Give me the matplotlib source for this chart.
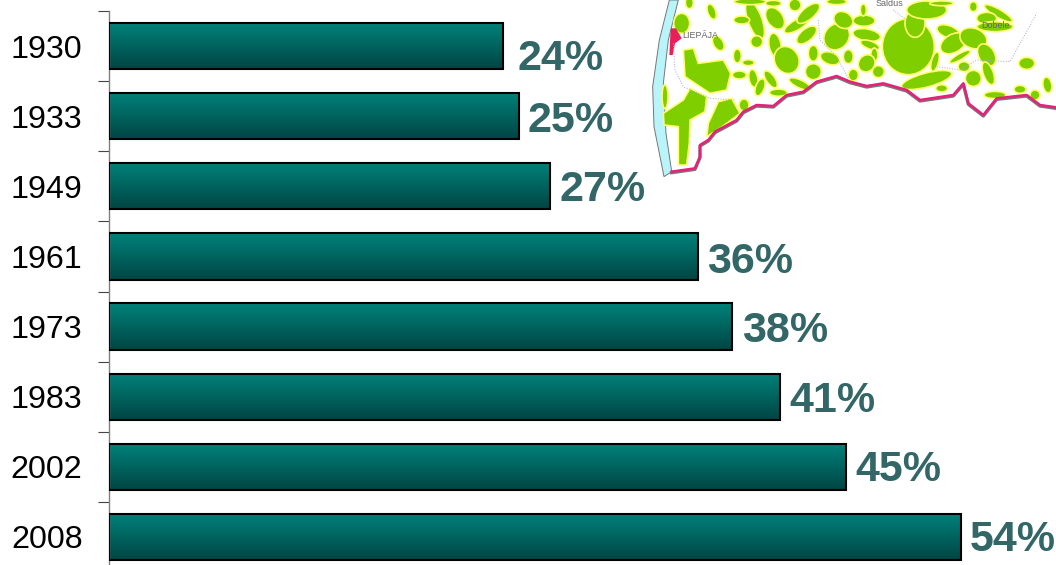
import numpy as np
import matplotlib
matplotlib.use("Agg")
from matplotlib import pyplot as plt
from matplotlib.patches import Ellipse, Polygon

plt.rcParams['font.family'] = ['Liberation Sans', 'DejaVu Sans']

years = ["1930", "1933", "1949", "1961", "1973", "1983", "2002", "2008"]
bar_values = [24.97, 25.98, 27.95, 37.3, 39.5, 42.5, 46.7, 54.0]
bar_labels = ["24%", "25%", "27%", "36%", "38%", "41%", "45%", "54%"]

# map decoration, in coordinates of a 3x crop of the map corner
border_x = [95, 130, 165, 180, 180, 205, 225, 290, 310, 350, 400, 440, 490, 530, 590, 630, 680, 730,
            800, 840, 940, 970, 985, 1030, 1070, 1160, 1200, 1248]
border_y = [515, 510, 505, 470, 435, 420, 395, 360, 335, 315, 318, 285, 275, 245, 228, 245, 258, 250,
            270, 300, 285, 250, 310, 345, 295, 285, 315, 322]
coast_x = [88, 58, 38, 42, 72, 95, 78, 70, 85, 115]
coast_y = [0, 120, 260, 380, 530, 515, 400, 250, 120, 0]
blobs = [(148, 8, 20, 30, 0), (215, 35, 20, 40, -20), (125, 70, 40, 50, 0), (235, 130, 25, 40, -30),
         (75, 290, 15, 60, 0), (312, 315, 25, 30, 0), (298, 225, 35, 20, 0), (292, 168, 20, 35, 0),
         (325, 188, 30, 15, 0), (340, 235, 22, 45, -10), (360, 262, 22, 45, 20), (392, 238, 22, 50, -35),
         (415, 278, 45, 18, 0), (480, 252, 60, 20, 25), (520, 215, 40, 40, -40), (345, 60, 35, 100, -20),
         (350, 125, 30, 30, 0), (305, 60, 40, 20, 0), (405, 55, 40, 60, -35), (405, 135, 30, 60, -10),
         (440, 180, 60, 70, -30), (470, 75, 70, 25, -30), (500, 105, 60, 30, -40), (505, 40, 70, 30, -40),
         (590, 110, 70, 60, -50), (610, 60, 40, 50, -60), (520, 160, 25, 40, 0), (570, 175, 50, 30, 20),
         (625, 170, 25, 35, 0), (640, 225, 25, 30, 0), (672, 62, 55, 28, 0), (680, 105, 70, 30, 10),
         (690, 135, 50, 20, 20), (703, 165, 18, 35, 0), (680, 190, 40, 45, 40), (715, 215, 30, 30, 40),
         (805, 140, 130, 140, 0), (825, 70, 50, 70, 0), (860, 240, 130, 35, -15), (905, 265, 30, 18, 0),
         (885, 185, 18, 50, 15), (860, 30, 100, 45, 0), (925, 95, 60, 30, 20), (940, 130, 70, 45, -30),
         (1000, 115, 70, 50, 20), (1040, 165, 40, 60, -30), (1045, 220, 25, 60, -20), (960, 170, 60, 15, -30),
         (972, 200, 30, 25, 0), (1000, 235, 40, 40, 0), (1000, 20, 20, 25, 0), (1075, 40, 80, 20, 30),
         (1040, 55, 50, 30, 0), (1065, 80, 90, 25, 0), (1160, 190, 40, 30, 0), (1065, 285, 55, 18, 0),
         (1140, 268, 30, 20, 0), (1185, 285, 25, 25, 0), (1222, 255, 22, 40, -10), (590, 5, 50, 15, 0),
         (670, 30, 15, 30, 0), (465, 15, 30, 30, 0), (400, 10, 40, 15, 0), (330, 5, 80, 15, 0), (905, 10, 60, 12, 0)]
patches = [[(130, 150), (160, 145), (175, 190), (250, 180), (272, 220), (260, 270), (210, 280), (180, 260), (135, 230)],
           [(70, 340), (130, 300), (150, 265), (200, 290), (195, 335), (150, 360), (148, 430), (140, 495), (115, 495), (115, 380), (72, 375)],
           [(235, 305), (275, 295), (300, 340), (240, 385), (200, 410), (205, 370)]]
city = [(92, 85), (108, 85), (125, 115), (105, 130), (98, 165), (88, 165)]
rivers = [[(100, 130), (105, 210), (130, 260), (210, 295), (285, 300)],
          [(535, 60), (540, 120), (590, 170), (625, 235)],
          [(760, 30), (800, 60)],
          [(890, 200), (960, 210), (1010, 180), (1110, 185), (1190, 40)]]
places = [("LIEPĀJA", 180, 105), ("Saldus", 748, 10), ("Dobele", 1068, 78)]
blob_grow = 1.2


def toFig(x, y):
    return 640 + x / 3, y / 3


fig = plt.figure(figsize=(10.56, 5.65), dpi=100)

# map sits behind the chart, in plain pixel coordinates
mapAx = fig.add_axes([0, 0, 1, 1], zorder=0)
mapAx.set_xlim(0, 1056)
mapAx.set_ylim(565, 0)
mapAx.axis("off")

mapAx.add_patch(Polygon([toFig(x, y) for x, y in zip(coast_x, coast_y)], fc="#b8f4fa", ec="#777777", lw=0.7))
for line in rivers:
    rx, ry = toFig(np.array([p[0] for p in line]), np.array([p[1] for p in line]))
    mapAx.plot(rx, ry, color="#a8a8d8", lw=0.7, ls=":")
for pts in patches:
    mapAx.add_patch(Polygon([toFig(x, y) for x, y in pts], fc="#7fce00", ec="#ffff70", lw=1.2))
for cx, cy, w, h, ang in blobs:
    c = toFig(cx, cy)
    mapAx.add_patch(Ellipse(c, w * blob_grow / 3, h * blob_grow / 3, angle=ang, fc="#7fce00", ec="#ffff70", lw=1.2))
mapAx.add_patch(Polygon([toFig(x, y) for x, y in city], fc="#e8205a", ec="none"))
bx, by = toFig(np.array(border_x), np.array(border_y))
mapAx.plot(bx, by + 1, color="#777777", lw=2.4)
mapAx.plot(bx, by, color="#e8207a", lw=1.8)
for name, x, y in places:
    px, py = toFig(x, y)
    mapAx.text(px, py, name, fontsize=6.5, color="#666666", ha="center", va="center")

# chart axes run past the bottom edge of the picture, like the original
ax = fig.add_axes([109 / 1056, (565 - 572) / 565, (1056 - 109) / 1056, 561 / 565], zorder=1)
ax.patch.set_alpha(0)

pos = np.arange(len(years))
gradient = np.linspace(0, 1, 64).reshape(-1, 1)
cmap = matplotlib.colors.LinearSegmentedColormap.from_list("bar", ["#00827a", "#004543"])
bars = ax.barh(pos, bar_values, height=0.66, facecolor="none", edgecolor="black", linewidth=1.5, zorder=3)
for b in bars:
    im = ax.imshow(gradient, extent=[b.get_x(), b.get_x() + b.get_width(), b.get_y() + b.get_height(), b.get_y()],
                   cmap=cmap, aspect="auto", zorder=2)
    im.set_clip_path(b)

label_dx = [15, 9, 10, 10, 10, 10, 10, 9]
label_dy = [-13, -5, -4, -6, -4, -4, -3, -3]
for i in range(len(years)):
    ax.annotate(bar_labels[i], (bar_values[i], pos[i]), xytext=(label_dx[i] * 0.72, label_dy[i] * 0.72),
                textcoords="offset points", ha="left", va="center", fontsize=31, fontweight="bold",
                color="#336666", zorder=4)

ax.set_xlim(0, 60.02)
ax.set_ylim(len(years) - 0.5, -0.5)
ax.set_yticks(pos)
ax.set_yticklabels(years, fontsize=23.2, color="black")
ax.set_yticks(np.arange(len(years) + 1) - 0.5, minor=True)
ax.tick_params(axis="y", which="major", length=0, pad=19)
ax.tick_params(axis="y", which="minor", length=8, width=0.8, color="#444444")
ax.set_xticks([])
for s in ["top", "right", "bottom"]:
    ax.spines[s].set_visible(False)
ax.spines["left"].set_color("#808080")
ax.spines["left"].set_linewidth(1.0)

fig.savefig("out.png", dpi=100)
